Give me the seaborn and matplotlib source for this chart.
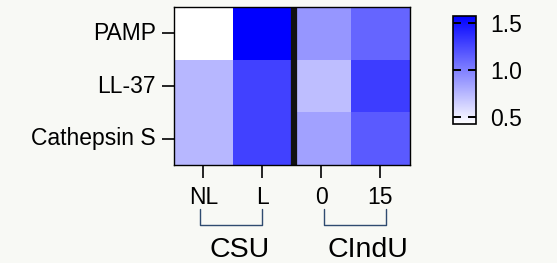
import numpy as np
import pandas as pd
import matplotlib
matplotlib.use("Agg")
import matplotlib.pyplot as plt
import seaborn as sns
from matplotlib.colors import LinearSegmentedColormap

# Data
genes = ["PAMP", "LL-37", "Cathepsin S"]
columns = ["NL", "L", "0", "15"]
csu_nl = [0.43, 0.75, 0.75]
csu_l = [1.57, 1.28, 1.28]
cindu_0 = [0.90, 0.72, 0.85]
cindu_15 = [1.12, 1.30, 1.17]
groups = ["CSU", "CIndU"]
cbar_ticks = [0.5, 1.0, 1.5]

df = pd.DataFrame({"NL": csu_nl, "L": csu_l, "0": cindu_0, "15": cindu_15},
                  index=genes)[columns]

sns.set_style("white")
plt.rcParams['font.family'] = ['Liberation Sans', 'DejaVu Sans']
plt.rcParams['text.color'] = 'black'
plt.rcParams['xtick.color'] = 'black'
plt.rcParams['ytick.color'] = 'black'
plt.rcParams['xtick.labelcolor'] = 'black'
plt.rcParams['ytick.labelcolor'] = 'black'

bg = "#f8f9f5"
fig = plt.figure(figsize=(5.57, 2.63), dpi=100, facecolor=bg)
ax = fig.add_axes([0.312, 0.373, 0.424, 0.600])
cax = fig.add_axes([0.813, 0.529, 0.042, 0.411])

cmap = LinearSegmentedColormap.from_list("wb", ["#ffffff", "#0000ff"])
sns.heatmap(df, ax=ax, cbar_ax=cax, cmap=cmap, vmin=0.426, vmax=1.574,
            cbar_kws={"ticks": cbar_ticks})

# frame around heatmap
for s in ax.spines.values():
    s.set_visible(True)
    s.set_color("black")
    s.set_linewidth(1.0)

# divider between the two groups
ax.axvline(2.03, color="#111111", lw=4.5)

ax.tick_params(axis="both", which="both", labelsize=16.5, length=9, width=1.2,
               color="black", labelcolor="black", direction="out",
               left=True, bottom=True)
ax.tick_params(axis="x", pad=6)
ax.tick_params(axis="y", pad=4)
ax.set_xticklabels(columns, rotation=0)
ax.set_yticklabels(genes, rotation=0)
ax.set_xlabel("")
ax.set_ylabel("")

# group brackets and labels
bracket_col = "#2f4b70"
spans = [(0.45, 1.5), (2.55, 3.6)]
label_x = [1.12, 3.29]
for (x0, x1), lx, name in zip(spans, label_x, groups):
    ax.plot([x0, x0, x1, x1], [3.83, 4.15, 4.15, 3.83], color=bracket_col,
            lw=1.0, clip_on=False)
    ax.text(lx, 4.62, name, ha="center", va="center", fontsize=20.5,
            color="black", clip_on=False)

# colorbar styling
cbar = ax.collections[0].colorbar
cbar.outline.set_visible(True)
cbar.outline.set_edgecolor("black")
cbar.outline.set_linewidth(1.2)
cbar.solids.set_zorder(0)
cax.tick_params(which="major", direction="in", left=True, right=True,
                length=6, width=1.4, labelsize=16.5, color="black",
                labelcolor="black", pad=10)
cax.set_yticklabels(["0.5", "1.0", "1.5"])

fig.savefig("out.png", dpi=100, facecolor=bg)
